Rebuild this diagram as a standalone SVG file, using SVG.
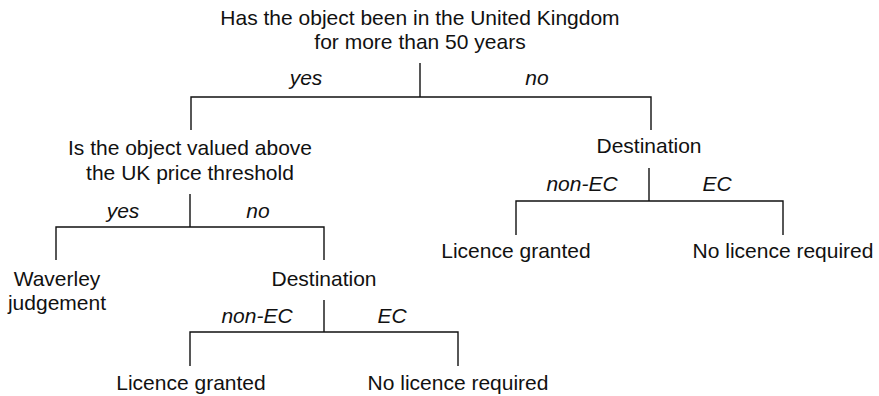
<svg xmlns="http://www.w3.org/2000/svg" width="879" height="396" viewBox="0 0 879 396">
<style>
text{font-family:"Liberation Sans",Arial,sans-serif;font-size:21px;fill:#111;text-anchor:middle}
.lab{font-style:italic}
.c{fill:none;stroke:#111;stroke-width:1.4}
</style>
<rect width="879" height="396" fill="#fff"/>
<g id="connectors" class="c">
<path d="M420,63V97M191,130V97H651V130"/>
<path d="M190,194V227M56,260V227H324V260"/>
<path d="M649,168V201M516,235V201H783V235"/>
<path d="M324,300V332M190,366V332H458V366"/>
</g>
<g id="edge-labels">
<text class="lab" x="306" y="85">yes</text>
<text class="lab" x="537" y="85">no</text>
<text class="lab" x="123" y="218">yes</text>
<text class="lab" x="258" y="218">no</text>
<text class="lab" x="582" y="191">non-EC</text>
<text class="lab" x="717" y="191">EC</text>
<text class="lab" x="257" y="323">non-EC</text>
<text class="lab" x="392" y="323">EC</text>
</g>
<g id="q1"><text x="420" y="25">Has the object been in the United Kingdom</text><text x="420" y="49">for more than 50 years</text></g>
<g id="q2"><text x="190" y="155">Is the object valued above</text><text x="190" y="180">the UK price threshold</text></g>
<g id="dest1"><text x="649" y="153">Destination</text></g>
<g id="lic1"><text x="516" y="258">Licence granted</text></g>
<g id="nolic1"><text x="783" y="258">No licence required</text></g>
<g id="waverley"><text x="57" y="286">Waverley</text><text x="57" y="310">judgement</text></g>
<g id="dest2"><text x="324" y="286">Destination</text></g>
<g id="lic2"><text x="191" y="390">Licence granted</text></g>
<g id="nolic2"><text x="458" y="390">No licence required</text></g>
</svg>
